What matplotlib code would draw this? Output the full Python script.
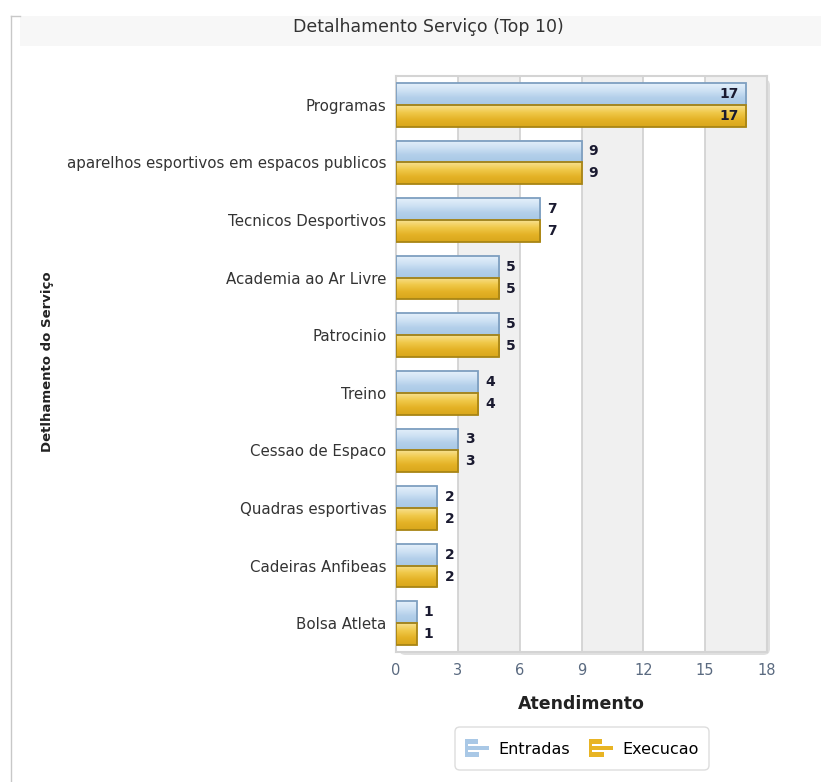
import numpy as np
import matplotlib
matplotlib.use("Agg")
import matplotlib.pyplot as plt
from matplotlib.patches import FancyBboxPatch, Rectangle
from matplotlib.colors import LinearSegmentedColormap
from matplotlib.legend_handler import HandlerBase

categories = ['Programas', 'aparelhos esportivos em espacos publicos',
              'Tecnicos Desportivos', 'Academia ao Ar Livre', 'Patrocinio',
              'Treino', 'Cessao de Espaco', 'Quadras esportivas',
              'Cadeiras Anfibeas', 'Bolsa Atleta']
entradas = [17, 9, 7, 5, 5, 4, 3, 2, 2, 1]
execucao = [17, 9, 7, 5, 5, 4, 3, 2, 2, 1]
xticks = [0, 3, 6, 9, 12, 15, 18]

W, H = 821, 782
fig = plt.figure(figsize=(W / 100, H / 100), dpi=100)
fig.patch.set_facecolor('white')

# title band and left border
fig.patches.append(Rectangle((20 / W, 1 - 46 / H), 1, 30 / H, transform=fig.transFigure,
                             facecolor='#f7f7f7', edgecolor='none', zorder=0))
fig.add_artist(plt.Line2D([11 / W, 11 / W], [0, 1 - 16 / H], color='#c8c8c8', lw=1))
fig.add_artist(plt.Line2D([11 / W, 20 / W], [1 - 16 / H, 1 - 16 / H], color='#c8c8c8', lw=1))
fig.text(428 / W, 1 - 27 / H, 'Detalhamento Serviço (Top 10)', ha='center', va='center',
         fontsize=12.5, color='#333333')

left, right, top, bottom = 396, 767, 76, 652
ax = fig.add_axes([left / W, 1 - bottom / H, (right - left) / W, (bottom - top) / H])
n = len(categories)

# alternating bands
for i in range(len(xticks) - 1):
    c = 'white' if i % 2 == 0 else '#f0f0f0'
    ax.axvspan(xticks[i], xticks[i + 1], color=c, zorder=0, lw=0)
for x in xticks[1:-1]:
    ax.axvline(x, color='#d0d0d0', lw=1.2, zorder=1)

# plot frame with shadow
fig.patches.append(FancyBboxPatch(((left + 3) / W, 1 - (bottom + 3) / H),
                                  (right - left) / W, (bottom - top) / H,
                                  boxstyle='round,pad=0,rounding_size=0.008',
                                  transform=fig.transFigure, facecolor='#e0e0e0',
                                  edgecolor='none', zorder=-1))
for s in ax.spines.values():
    s.set_color('#d4d4d4')
    s.set_linewidth(1.5)

h = 0.38
y = np.arange(n)
blue_cmap = LinearSegmentedColormap.from_list('b', ['#e4f0fb', '#cfe2f4', '#b3cfea', '#a9c8e6'])
gold_cmap = LinearSegmentedColormap.from_list('g', ['#f8e08e', '#f0c94a', '#e4b226', '#d9a71c'])
blue_edge, gold_edge = '#7e9fc0', '#a88515'
grad = np.linspace(0, 1, 32).reshape(-1, 1)


def grad_bars(vals, ys, cmap, edge):
    for v, yy in zip(vals, ys):
        ax.imshow(grad, cmap=cmap, aspect='auto', origin='lower', interpolation='bilinear',
                  extent=(0, v, yy - h / 2, yy + h / 2), zorder=3)
    ax.barh(ys, vals, height=h, facecolor='none', edgecolor=edge, lw=1.3, zorder=4)


grad_bars(entradas, y - h / 2, blue_cmap, blue_edge)
grad_bars(execucao, y + h / 2, gold_cmap, gold_edge)

ax.set_xlim(0, 18)
ax.set_ylim(n - 0.5, -0.5)

for i in range(n):
    for val, yy in ((entradas[i], y[i] - h / 2), (execucao[i], y[i] + h / 2)):
        if val >= 15:
            ax.text(val - 0.35, yy, str(val), ha='right', va='center', fontsize=10,
                    fontweight='bold', color='#1a1a30', zorder=5)
        else:
            ax.text(val + 0.35, yy, str(val), ha='left', va='center', fontsize=10,
                    fontweight='bold', color='#1a1a30', zorder=5)

ax.set_yticks(y)
ax.set_yticklabels(categories, fontsize=10.8, color='#333333')
ax.set_xticks(xticks)
ax.set_xticklabels([str(t) for t in xticks], fontsize=10.5, color='#5a6a80')
ax.tick_params(length=0, pad=8)
ax.tick_params(axis='y', pad=7)

ax.set_xlabel('Atendimento', fontsize=12.5, fontweight='bold', color='#222222', labelpad=12)
fig.text(47 / W, 1 - 362 / H, 'Detlhamento do Serviço', rotation=90, ha='center',
         va='center', fontsize=9.5, fontweight='bold', color='#222222')


class BarIcon(HandlerBase):
    # small "bar chart" glyph like the original legend
    def create_artists(self, legend, orig, xd, yd, w, hh, fontsize, trans):
        col = orig.get_facecolor()
        arts = [Rectangle((xd - xd, -yd - hh * 0.25), w * 0.12, hh * 1.5, facecolor=col,
                          edgecolor='none', transform=trans)]
        rows = [(0.85, 0.55), (0.3, 1.0), (-0.25, 0.6)]
        bh = hh * 0.38
        for fy, fw in rows:
            arts.append(Rectangle((0, -yd + fy * hh), w * fw, bh, facecolor=col,
                                  edgecolor='none', transform=trans))
        return arts


# legend
fig.patches.append(FancyBboxPatch((455 / W, 1 - 770 / H), 254 / W, 43 / H,
                                  boxstyle='round,pad=0,rounding_size=0.006',
                                  transform=fig.transFigure, facecolor='white',
                                  edgecolor='#dddddd', lw=1, zorder=1))
handles = [Rectangle((0, 0), 1, 1, facecolor='#a9c8e6'),
           Rectangle((0, 0), 1, 1, facecolor='#e8b424')]
fig.legend(handles, ['Entradas', 'Execucao'], loc='center', ncol=2,
           bbox_to_anchor=(582 / W, 1 - 749 / H), frameon=False, fontsize=11.5,
           handlelength=1.5, handleheight=0.8, columnspacing=1.2, handletextpad=0.6,
           handler_map={Rectangle: BarIcon()})

fig.savefig('out.png', dpi=100)
